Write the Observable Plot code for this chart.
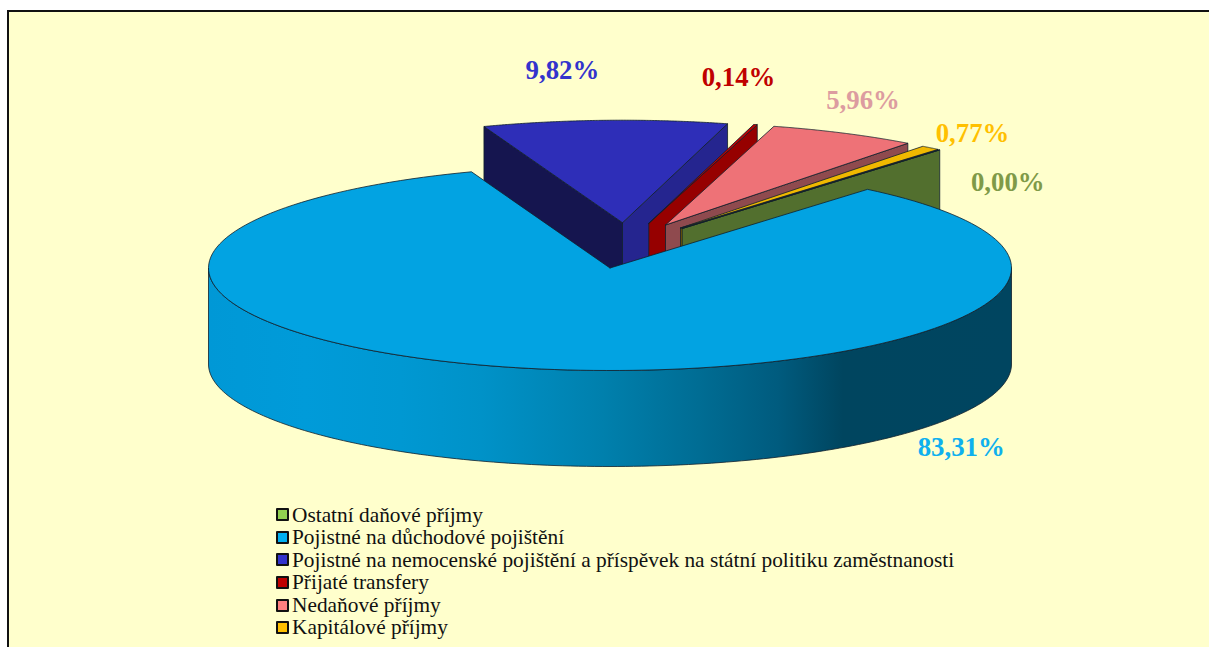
<!DOCTYPE html>
<html lang="cs">
<head>
<meta charset="utf-8">
<script src="https://cdn.jsdelivr.net/npm/d3@7"></script>
<script src="https://cdn.jsdelivr.net/npm/@observablehq/plot@0.6"></script>
<style>
html,body{margin:0;padding:0;background:#fff;overflow:hidden;width:1209px;height:647px}
#frame{position:absolute;left:7px;top:10px;width:1202px;height:637px;box-sizing:border-box;border-left:2px solid #111;border-top:2px solid #111;background:#ffffcc;overflow:hidden}
#frame svg{display:block;background:transparent}
#legend{position:absolute;left:267px;top:491.5px;font:21.35px/22.6px "Liberation Serif",serif;color:#111;white-space:nowrap}
#legend div{display:flex;align-items:center;height:22.6px}
#legend i{display:block;box-sizing:border-box;width:13px;height:13px;border:2.4px solid #111;margin-right:3px;border-radius:1px}
</style>
</head>
<body>
<div id="frame"><div id="chart"></div><div id="legend"></div></div>
<script>
// Data
const categories = ["Ostatní daňové příjmy","Pojistné na důchodové pojištění","Pojistné na nemocenské pojištění a příspěvek na státní politiku zaměstnanosti","Přijaté transfery","Nedaňové příjmy","Kapitálové příjmy"];
const values = [0.00, 83.31, 9.82, 0.14, 5.96, 0.77];
const valueLabels = ["0,00%","83,31%","9,82%","0,14%","5,96%","0,77%"];

// Styles
const legendColors = ["#92d050","#00b0f0","#3333cc","#c00000","#ff8080","#ffc000"];
const topColors    = ["#8cc850","#02a3e2","#2e2eb8","#c00000","#ee7277","#f0b800"];
const wallColors   = ["#526f2e","#00425f","#25258f","#960000","#8f4a4e","#7a5c00"];
const labelColors  = ["#7f9a48","#0fb0ee","#3333cc","#c00000","#dc9ca0","#ffc000"];

// Pie layout
const cx = 609.5, cy = 267.5, rx = 401.5, ry = 102.5, depth = 96, firstAngle = 39.9;
const explode = [[72.2,-39.5],[0,0],[12.5,-45.3],[38.8,-44.7],[55.5,-43],[70.5,-40]];
const labelNudge = [[68,32.5],[420,78],[-42.5,-50],[-17,-47],[19,-33],[42,-14]];

const rad = d => d * Math.PI / 180;
const pointAt = (a, c, drop = 0) => ({x: c[0] + rx * Math.sin(rad(a)), y: c[1] - ry * Math.cos(rad(a)) + drop});
const arc = (a0, a1, c, drop = 0) => d3.range(0, 161).map(i => pointAt(a0 + (a1 - a0) * i / 160, c, drop));

let acc = firstAngle;
const slices = values.map((v, i) => {
  const a0 = acc, a1 = acc + v * 3.6; acc = a1;
  const d = explode[i];
  return {i, a0, a1, c: [cx + d[0], cy + d[1]]};
});

const outline = {stroke: "#10202c", strokeWidth: 0.8, strokeLinejoin: "round"};
const poly = (pts, fill) => Plot.line([...pts, pts[0]], {x: "x", y: "y", fill, ...outline});
const apex = s => ({x: s.c[0], y: s.c[1]});
const face = (s, a) => {
  const p = pointAt(a, s.c), o = apex(s);
  return [o, p, {x: p.x, y: p.y + depth}, {x: o.x, y: o.y + depth}];
};

const marks = [];
marks.push(() => {
  const defs = d3.create("svg:defs");
  const g = defs.append("linearGradient").attr("id", "side").attr("x1", 0).attr("x2", 1).attr("y1", 0).attr("y2", 0);
  [[0,"#0098d6"],[0.12,"#009bd9"],[0.24,"#0098d2"],[0.34,"#0092c8"],[0.49,"#0080ad"],[0.61,"#006d94"],[0.71,"#005b7e"],[0.79,"#00455f"],[1,"#004560"]]
    .forEach(([o,c]) => g.append("stop").attr("offset", o).attr("stop-color", c));
  return defs.node();
});

// back wedges, from back to front, big slice last
for (const s of [2,3,4,5,0].map(i => slices[i])) {
  if (s.i === 2) marks.push(poly(face(s, s.a0), "#15154f"));
  marks.push(poly(face(s, s.a1), wallColors[s.i]));
  marks.push(poly([apex(s), ...arc(s.a0, s.a1, s.c)], topColors[s.i]));
}
const big = slices[1];
marks.push(poly([...arc(90, 270, big.c), ...arc(270, 90, big.c, depth)], "url(#side)"));
marks.push(poly([apex(big), ...arc(big.a0, big.a1, big.c)], topColors[1]));

// value labels
const labels = slices.map(s => {
  const m = pointAt((s.a0 + s.a1) / 2, s.c), n = labelNudge[s.i];
  return {x: m.x + n[0], y: m.y + n[1], text: valueLabels[s.i], color: labelColors[s.i]};
});
marks.push(Plot.text(labels, {x: "x", y: "y", text: "text", fill: "color", fontFamily: "Liberation Serif", fontWeight: "bold", fontSize: 26.8, textAnchor: "middle", lineAnchor: "middle"}));

const chart = Plot.plot({
  width: 1200, height: 490, margin: 0,
  style: {background: "transparent", overflow: "visible"},
  x: {domain: [9, 1209], range: [0, 1200], axis: null},
  y: {domain: [12, 502], range: [0, 490], axis: null},
  color: {type: "identity"},
  marks
});
document.getElementById("chart").append(chart);

// legend
const legend = d3.select("#legend").selectAll("div").data(categories).join("div");
legend.append("i").style("background", (d, i) => legendColors[i]);
legend.append("span").text(d => d);
</script>
</body>
</html>
